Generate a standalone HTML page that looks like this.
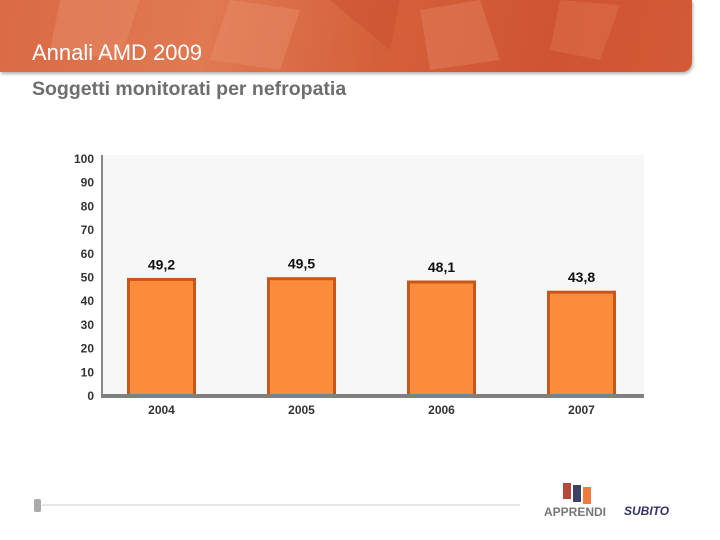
<!DOCTYPE html>
<html><head><meta charset="utf-8"><style>
body{margin:0;width:720px;height:540px;background:#fff;overflow:hidden;font-family:"Liberation Sans",Arial,sans-serif;position:relative}
#banner{position:absolute;left:0;top:0;width:692px;height:72px;border-bottom-right-radius:10px;background:linear-gradient(100deg,#d96a45 0%,#e07a52 30%,#d4603a 55%,#cf5432 80%,#d35a36 100%);box-shadow:1px 2px 3px rgba(0,0,0,0.3)}
#title{position:absolute;left:32px;top:40px;color:#fff;font-size:22px}
#subtitle{position:absolute;left:32px;top:78px;color:#6e6e6e;font-size:19.5px;font-weight:bold}
</style></head><body>
<div id="banner">
<svg width="692" height="72" style="position:absolute;left:0;top:0">
<polygon points="60,0 140,0 120,60 50,50" fill="#e58a66" opacity="0.5"/>
<polygon points="230,0 300,10 280,70 210,60" fill="#e8926f" opacity="0.4"/>
<polygon points="330,0 400,0 390,50" fill="#c94f2e" opacity="0.5"/>
<polygon points="420,10 480,0 500,60 430,70" fill="#e58a66" opacity="0.4"/>
<polygon points="560,0 620,5 600,60 550,50" fill="#e07855" opacity="0.4"/>
</svg></div>
<div id="title">Annali AMD 2009</div>
<div id="subtitle">Soggetti monitorati per nefropatia</div>
<svg id="chart" width="720" height="540" style="position:absolute;left:0;top:0"></svg>
<svg width="720" height="540" style="position:absolute;left:0;top:0;pointer-events:none">
<rect x="34" y="499" width="7" height="13" rx="2" fill="#aaa"/>
<line x1="42" y1="505" x2="520" y2="505" stroke="#ddd" stroke-width="1.5"/>
<rect x="563" y="483" width="8" height="16" fill="#b5483a"/>
<rect x="573" y="485" width="8" height="17" fill="#3c4166"/>
<rect x="583" y="487" width="8" height="17" fill="#ef7a3c"/>
<text x="544" y="516" font-size="12" font-weight="bold" fill="#777" font-family="Liberation Sans,sans-serif">APPRENDI</text>
<text x="624" y="515" font-size="12" font-weight="bold" font-style="italic" fill="#333366" font-family="Liberation Sans,sans-serif">SUBITO</text>
</svg>
<script>
const categories=["2004","2005","2006","2007"];
const values=[49.2,49.5,48.1,43.8];
const valueLabels=["49,2","49,5","48,1","43,8"];
const yTicks=[0,10,20,30,40,50,60,70,80,90,100];
const svg=document.getElementById('chart');
const NS='http://www.w3.org/2000/svg';
const x0=102,x1=644,y0=396,pxPer=2.37;
const y=v=>y0-v*pxPer;
const step=140,first=161.5,bw=66;
const cx=i=>first+i*step;
function mk(t,a){const e=document.createElementNS(NS,t);for(const k in a)e.setAttribute(k,a[k]);svg.appendChild(e);return e;}
const bg=mk('rect',{x:x0,y:155,width:x1-x0,height:y0-155,fill:'#f7f7f7'});


const ya=mk('line',{x1:x0,y1:155,x2:x0,y2:y0,stroke:'#888','stroke-width':2});


yTicks.forEach(t=>{const e=mk('text',{x:94,y:y(t)+4,'text-anchor':'end','font-size':12,'font-weight':'bold',fill:'#333'});e.textContent=t;

});
values.forEach((v,i)=>{
const r=mk('rect',{x:cx(i)-bw/2,y:y(v),width:bw,height:y0-y(v),fill:'#fb8c3c',stroke:'#c8581a','stroke-width':3});


const l=mk('text',{x:cx(i),y:y(v)-10,'text-anchor':'middle','font-size':14,'font-weight':'bold',fill:'#111'});l.textContent=valueLabels[i];


const c=mk('text',{x:cx(i),y:414,'text-anchor':'middle','font-size':12,'font-weight':'bold',fill:'#333'});c.textContent=categories[i];


});
const xa=mk('line',{x1:x0-1,y1:y0,x2:x1,y2:y0,stroke:'#808080','stroke-width':4});


</script>
</body></html>
